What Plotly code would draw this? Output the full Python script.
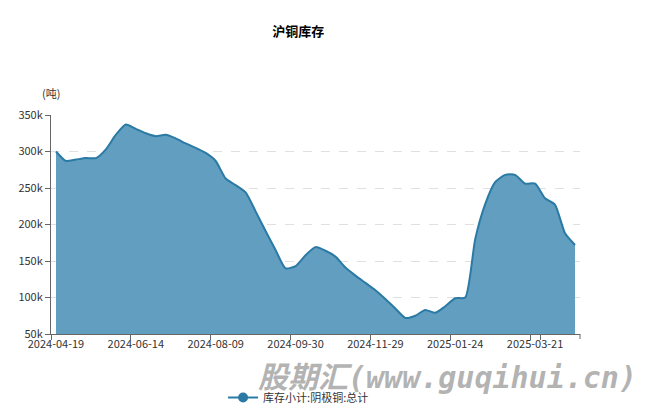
import plotly.graph_objects as go

dates = [
    "2024-04-19", "2024-04-26", "2024-04-30", "2024-05-10", "2024-05-17", "2024-05-24",
    "2024-05-31", "2024-06-07", "2024-06-14", "2024-06-21", "2024-06-28", "2024-07-05",
    "2024-07-12", "2024-07-19", "2024-07-26", "2024-08-02", "2024-08-09", "2024-08-16",
    "2024-08-23", "2024-08-30", "2024-09-06", "2024-09-13", "2024-09-20", "2024-09-27",
    "2024-09-30", "2024-10-11", "2024-10-18", "2024-10-25", "2024-11-01", "2024-11-08",
    "2024-11-15", "2024-11-22", "2024-11-29", "2024-12-06", "2024-12-13", "2024-12-20",
    "2024-12-27", "2025-01-03", "2025-01-10", "2025-01-17", "2025-01-24", "2025-01-27",
    "2025-02-07", "2025-02-14", "2025-02-21", "2025-02-28", "2025-03-07", "2025-03-14",
    "2025-03-21", "2025-03-28", "2025-04-03", "2025-04-11", "2025-04-18",
]

inventory = [
    300000, 287000, 289000, 291000, 291000, 303000, 323000, 337000, 331000, 325000,
    321000, 323000, 318000, 311000, 305000, 298000, 287000, 263000, 254000, 244000,
    218000, 191000, 165000, 140000, 143000, 158000, 169000, 164000, 156000, 141000,
    130000, 120000, 110000, 98000, 85000, 72000, 75000, 83000, 79000, 88000,
    99000, 100000, 180000, 228000, 258000, 268000, 268000, 256000, 256000, 236000,
    227000, 188000, 172000,
]

series_name = "库存小计:阴极铜:总计"
title_text = "沪铜库存"
unit_text = "(吨)"
watermark = "股期汇(www.guqihui.cn)"
tick_labels = dates[::8]

line_color = "#2b7aa5"
fill_color = "#629ebf"
font_family = "Noto Sans CJK SC, Noto Sans, sans-serif"

fig = go.Figure()
fig.add_trace(go.Scatter(
    x=dates, y=inventory, mode="lines",
    line=dict(color=line_color, width=2, shape="spline", smoothing=0.6),
    fill="tozeroy", fillcolor=fill_color,
    showlegend=False, name=series_name,
))
fig.add_trace(go.Scatter(
    x=[None], y=[None], mode="lines+markers", name=series_name,
    line=dict(color=line_color, width=2),
    marker=dict(color=line_color, size=10),
    showlegend=True,
))

fig.update_layout(
    width=657, height=408,
    margin=dict(l=51, r=77, t=115, b=74, autoexpand=False),
    paper_bgcolor="white", plot_bgcolor="white",
    font=dict(family=font_family, size=11, color="#333"),
    title=dict(text=title_text, xref="container", x=0.454, xanchor="center",
               yref="container", y=0.922, yanchor="middle", automargin=False,
               font=dict(family=font_family, size=13, color="#000", weight="bold")),
    legend=dict(orientation="h", x=0.468, xanchor="center", y=-0.29, yanchor="middle",
                font=dict(size=11, color="#333"), itemwidth=30),
    showlegend=True,
)

fig.update_xaxes(
    type="category", range=[-0.5, len(dates) - 0.5],
    tickmode="array", tickvals=tick_labels, ticktext=tick_labels,
    tickson="boundaries", ticks="outside", ticklen=5, tickcolor="#666",
    tickangle=0, automargin=False,
    showline=True, linecolor="#666", linewidth=1,
    showgrid=False, zeroline=False,
    tickfont=dict(size=11, color="#333"),
)
fig.update_yaxes(
    range=[50000, 350000], dtick=50000, tick0=50000, tickformat="~s",
    ticks="outside", ticklen=5, tickcolor="#666", automargin=False,
    showline=True, linecolor="#666", linewidth=1,
    showgrid=True, gridcolor="#e0e0e0", griddash="dash", gridwidth=1,
    zeroline=False, tickfont=dict(size=11, color="#333"),
)

fig.add_shape(type="line", xref="paper", yref="paper", x0=1, x1=1, y0=0, y1=-5/219,
              line=dict(color="#666", width=1))

fig.add_annotation(text=unit_text, xref="paper", yref="paper", x=0.0, y=1.10,
                   xanchor="center", yanchor="middle", showarrow=False,
                   font=dict(size=11, color="#333"))
fig.add_annotation(text="<i><b>" + watermark + "</b></i>", xref="paper", yref="paper",
                   x=0.749, y=-0.197, xanchor="center", yanchor="middle", showarrow=False,
                   font=dict(family="DejaVu Sans Mono, Noto Sans CJK SC", size=30,
                             color="rgba(150,150,150,0.72)"))

fig.write_html("out.html", config={"displayModeBar": False},
               post_script="document.body.style.margin='0';")
